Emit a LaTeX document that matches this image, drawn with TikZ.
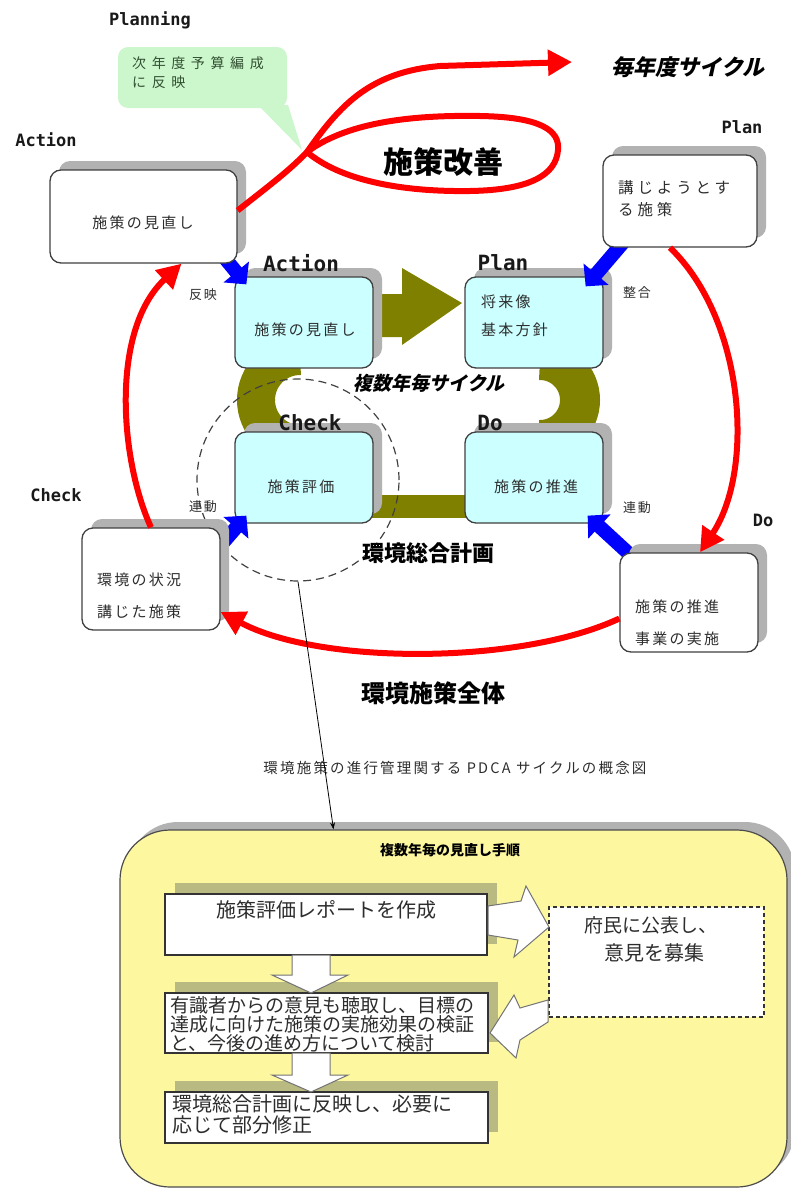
\documentclass[tikz,border=0pt]{standalone}
\usepackage{fontspec}
\setmainfont{Noto Sans CJK JP}
\newfontfamily\lat{DejaVu Sans Mono}
\newfontfamily\jpsl[FakeSlant=0.22]{Noto Sans CJK JP}
\newfontfamily\jpls[LetterSpace=15]{Noto Sans CJK JP}
\newfontfamily\jpmid[LetterSpace=25]{Noto Sans CJK JP}
\newfontfamily\jpwide[LetterSpace=40]{Noto Sans CJK JP}
\usetikzlibrary{arrows.meta,shadows}
\definecolor{olv}{RGB}{128,128,0}
\definecolor{cyanbox}{RGB}{204,255,255}
\definecolor{grn}{RGB}{204,247,204}
\definecolor{ylw}{RGB}{253,248,160}
\definecolor{shd}{RGB}{178,178,178}
\definecolor{yshd}{RGB}{185,185,130}
\definecolor{txt}{RGB}{45,45,45}
\definecolor{gtxt}{RGB}{50,80,50}
\begin{document}
\begin{tikzpicture}[x=1pt,y=1pt,
  obox/.style={draw=black!75, line width=1.3pt, rounded corners=11pt, fill=white, inner sep=0pt,
    drop shadow={shadow xshift=9pt, shadow yshift=9pt, fill=shd, opacity=1}},
  cbox/.style={obox, fill=cyanbox},
  sbox/.style={draw=black!80, line width=1.5pt, fill=white, inner sep=0pt,
    drop shadow={shadow xshift=10pt, shadow yshift=11pt, fill=yshd, opacity=1}},
  lab/.style={font=\lat\bfseries\fontsize{17}{17}\selectfont, text=black!90, inner sep=0pt},
  clab/.style={font=\lat\bfseries\fontsize{21}{21}\selectfont, text=black!90, inner sep=0pt},
  btxt/.style={font=\jpls\fontsize{15}{15}\selectfont, text=txt, inner sep=0pt},
  small/.style={font=\jpls\fontsize{13}{13}\selectfont, text=txt, inner sep=0pt},
  ytxt/.style={font=\fontsize{19}{19}\selectfont, text=txt, inner sep=0pt},
  redline/.style={red, line width=6pt},
  redarrow/.style={red, line width=6pt, -{Triangle[length=24pt,width=25pt]}},
  bluearrow/.style={blue, line width=14pt, -{Triangle[length=16pt,width=32pt]}},
  hollow/.style={fill=white, draw=black!55, line width=1pt, line join=miter},
]
\useasboundingbox (0,0) rectangle (790,-1189);

% ---------- callout ----------
\fill[grn] (258,-105) -- (288,-105) -- (302,-150) -- cycle;
\node[fill=grn, rounded corners=10pt, minimum width=169pt, minimum height=61pt, inner sep=0pt] (callout) at (202.5,-77.5) {};
\node[font=\jpwide\fontsize{14}{14}\selectfont, text=gtxt, anchor=west, inner sep=0pt] (cl1) at (132,-63) {次年度予算編成};
\node[font=\jpwide\fontsize{14}{14}\selectfont, text=gtxt, anchor=west, inner sep=0pt] (cl2) at (132,-82) {に反映};
\node[lab] (planning) at (150,-20) {Planning};

% ---------- olive ring ----------
\draw[olv, line width=38pt] (300,-356) arc[start angle=90, end angle=270, radius=44];
\draw[olv, line width=40pt] (540,-360) arc[start angle=90, end angle=-90, radius=40];
\draw[olv, line width=23pt] (360,-506) -- (480,-506);
\fill[olv] (368,-294) -- (402,-294) -- (402,-268) -- (462,-303) -- (402,-345) -- (402,-337) -- (368,-337) -- cycle;

% ---------- central boxes ----------
\node[cbox, minimum width=138pt, minimum height=91pt] (cact) at (304,-322.5) {};
\node[cbox, minimum width=138pt, minimum height=91pt] (cplan) at (534,-322.5) {};
\node[cbox, minimum width=138pt, minimum height=91pt] (cchk) at (304,-477.5) {};
\node[cbox, minimum width=138pt, minimum height=91pt] (cdo) at (534,-477.5) {};
\node[clab] (lcact) at (301,-263) {Action};
\node[clab] (lcplan) at (503,-263) {Plan};
\node[clab] (lcchk) at (310,-423) {Check};
\node[clab] (lcdo) at (490,-423) {Do};
\node[btxt] (tcact) at (305,-330) {施策の見直し};
\node[btxt, anchor=west] (tcplan1) at (481,-302) {将来像};
\node[btxt, anchor=west] (tcplan2) at (481,-330) {基本方針};
\node[btxt] (tcchk) at (301,-487) {施策評価};
\node[btxt] (tcdo) at (536,-487) {施策の推進};

% ---------- dashed circle ----------
\node[circle, draw=black!75, dash pattern=on 8pt off 5pt, line width=1.2pt, minimum size=202pt, inner sep=0pt] (dc) at (298,-480) {};

% ---------- texts ----------
\node[font=\bfseries\fontsize{30}{30}\selectfont, inner sep=0pt] (kaizen) at (443,-162) {施策改善};
\node[font=\jpsl\bfseries\fontsize{22}{22}\selectfont, inner sep=0pt] (mainen) at (688,-67) {毎年度サイクル};
\node[font=\jpsl\bfseries\fontsize{19}{19}\selectfont, inner sep=0pt] (fukusu) at (429,-383) {複数年毎サイクル};
\node[font=\bfseries\fontsize{22}{22}\selectfont, inner sep=0pt] (sogo) at (428,-553) {環境総合計画};
\node[font=\bfseries\fontsize{24}{24}\selectfont, inner sep=0pt] (zentai) at (433,-693) {環境施策全体};
\node[font=\jpls\fontsize{14.5}{14.5}\selectfont, text=txt, inner sep=0pt] (caption) at (455,-768) {環境施策の進行管理関する PDCA サイクルの概念図};

% ---------- outer box positions ----------
\path (143.5,-216.5) coordinate (pact) (680,-201) coordinate (pplan) (151,-579) coordinate (pchk) (689,-602.5) coordinate (pdo);

% ---------- blue arrows ----------
\draw[bluearrow] (219,-251) -- ([shift={(12pt,-8pt)}]cact.north west);
\draw[bluearrow] (627,-238) -- ([shift={(-18pt,-10pt)}]cplan.north east);
\draw[bluearrow] (215,-552) -- ([shift={(12pt,8pt)}]cchk.south west);
\draw[bluearrow] (638,-562) -- ([shift={(-16pt,8pt)}]cdo.south east);

% ---------- outer boxes ----------
\node[obox, minimum width=187pt, minimum height=93pt] (oact) at (pact) {};
\node[obox, minimum width=154pt, minimum height=92pt] (oplan) at (pplan) {};
\node[obox, minimum width=138pt, minimum height=102pt] (ochk) at (pchk) {};
\node[obox, minimum width=138pt, minimum height=99pt] (odo) at (pdo) {};
\node[lab] (loact) at (46,-140) {Action};
\node[lab] (loplan) at (742,-127) {Plan};
\node[lab] (lochk) at (56,-495) {Check};
\node[lab] (lodo) at (763,-520) {Do};
\node[btxt] (toact) at (143,-223) {施策の見直し};
\node[font=\jpmid\fontsize{15.5}{15.5}\selectfont, text=txt, inner sep=0pt, anchor=west] (toplan1) at (618,-188) {講じようとす};
\node[font=\jpmid\fontsize{15.5}{15.5}\selectfont, text=txt, inner sep=0pt, anchor=west] (toplan2) at (618,-210) {る施策};
\node[btxt, anchor=west] (tochk1) at (97,-580) {環境の状況};
\node[btxt, anchor=west] (tochk2) at (97,-612) {講じた施策};
\node[btxt, anchor=west] (todo1) at (635,-607) {施策の推進};
\node[btxt, anchor=west] (todo2) at (635,-639) {事業の実施};
\node[small] (hanei) at (203,-295) {反映};
\node[small] (rendo1) at (203,-507) {連動};
\node[small] (seigo) at (637,-293) {整合};
\node[small] (rendo2) at (637,-508) {連動};

% ---------- red curves ----------
\draw[redarrow] (ochk.north) .. controls (120,-460) and (110,-330) .. ([xshift=38pt]oact.south);
\draw[redarrow] ([xshift=-10pt]oplan.south) .. controls (745,-320) and (755,-470) .. ([xshift=11pt]odo.north);
\draw[redarrow] ([yshift=-16pt]odo.west) .. controls (520,-665) and (320,-665) .. ([yshift=-33pt]ochk.east);
\draw[redline, line cap=round] (307,-152) .. controls (350,-120) and (420,-115) .. (480,-116)
  .. controls (540,-117) and (560,-130) .. (558,-150)
  .. controls (556,-175) and (530,-190) .. (470,-191)
  .. controls (400,-192) and (340,-180) .. (307,-152);
\draw[redarrow] ([yshift=6pt]oact.east) .. controls (270,-185) and (290,-170) .. (307,-152)
  .. controls (340,-105) and (370,-72) .. (440,-66) -- (572,-62);

% ---------- yellow panel ----------
\node[draw=black!70, line width=1.2pt, fill=ylw, rounded corners=50pt, minimum width=667pt, minimum height=357pt, inner sep=0pt,
  drop shadow={shadow xshift=8pt, shadow yshift=8pt, fill=shd, opacity=1}] (yb) at (453.5,-1008.5) {};
\draw[black, line width=0.8pt, -{Stealth[length=7pt,width=5pt]}] (dc.south) -- ([xshift=-120pt]yb.north);
\node[font=\bfseries\fontsize{14}{14}\selectfont, inner sep=0pt] (ytitle) at (450,-850) {複数年毎の見直し手順};

\node[sbox, minimum width=322pt, minimum height=61pt] (b1) at (326,-924.5) {};
\node[sbox, minimum width=323pt, minimum height=60pt] (b2) at (326.5,-1023) {};
\node[sbox, minimum width=323pt, minimum height=51pt] (b3) at (326.5,-1117.5) {};
\node[draw=black!80, line width=1.5pt, dash pattern=on 4pt off 3pt, fill=white, minimum width=215pt, minimum height=110pt, inner sep=0pt] (pub) at (656.5,-962) {};

\node[font=\fontsize{20}{20}\selectfont, text=txt, inner sep=0pt] (t1) at (326,-910) {施策評価レポートを作成};
\node[ytxt, anchor=west] (t21) at (170,-1005) {有識者からの意見も聴取し、目標の};
\node[ytxt, anchor=west] (t22) at (170,-1024) {達成に向けた施策の実施効果の検証};
\node[ytxt, anchor=west] (t23) at (170,-1043) {と、今後の進め方について検討};
\node[font=\fontsize{20}{20}\selectfont, text=txt, inner sep=0pt, anchor=west] (t31) at (172,-1104) {環境総合計画に反映し、必要に};
\node[font=\fontsize{20}{20}\selectfont, text=txt, inner sep=0pt, anchor=west] (t32) at (172,-1125) {応じて部分修正};
\node[ytxt] (tp1) at (651,-925) {府民に公表し、};
\node[font=\fontsize{20}{20}\selectfont, text=txt, inner sep=0pt] (tp2) at (654,-953) {意見を募集};

% hollow arrows
\draw[hollow] (292,-955) -- (330,-955) -- (330,-975) -- (348,-975) -- (311,-993) -- (272,-975) -- (292,-975) -- cycle;
\draw[hollow] (292,-1053) -- (330,-1053) -- (330,-1075) -- (348,-1075) -- (311,-1092) -- (272,-1075) -- (292,-1075) -- cycle;
\draw[hollow] (488,-906) -- (521,-901) -- (526,-886) -- (549,-927) -- (514,-957) -- (518,-940) -- (488,-935) -- cycle;
\draw[hollow] (548,-1000) -- (520,-1008) -- (514,-995) -- (490,-1033) -- (516,-1058) -- (520,-1040) -- (548,-1022) -- cycle;
\end{tikzpicture}
\end{document}
